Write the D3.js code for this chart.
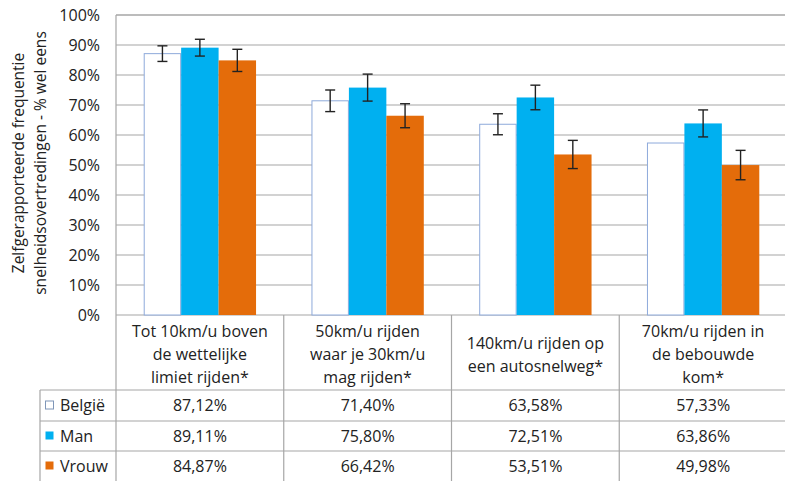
<!DOCTYPE html>
<html><head><meta charset="utf-8">
<script src="https://cdn.jsdelivr.net/npm/d3@7"></script>
<style>body{margin:0;background:#fff}svg{display:block}text{font-family:"Open Sans",sans-serif;fill:#222}</style>
</head><body><svg id="c" width="785" height="481"></svg>
<script>
const categories = [
  ["Tot 10km/u boven","de wettelijke","limiet rijden*"],
  ["50km/u rijden","waar je 30km/u","mag rijden*"],
  ["140km/u rijden op","een autosnelweg*"],
  ["70km/u rijden in","de bebouwde","kom*"]
];
const seriesNames = ["België","Man","Vrouw"];
const belgie = [87.12, 71.40, 63.58, 57.33];
const man = [89.11, 75.80, 72.51, 63.86];
const vrouw = [84.87, 66.42, 53.51, 49.98];
const errBelgie = [2.6, 3.6, 3.5, 0];
const errMan = [2.8, 4.5, 4.1, 4.5];
const errVrouw = [3.7, 4.0, 4.7, 4.9];
const yTicks = [0,10,20,30,40,50,60,70,80,90,100];
const yTitle = ["Zelfgerapporteerde frequentie","snelheidsovertredingen - % wel eens"];

const colors = ["#ffffff","#00b0f0","#e46c0a"];
const strokes = ["#8eaadb","none","none"];
const values = [belgie, man, vrouw];
const errs = [errBelgie, errMan, errVrouw];
const fmt = v => v.toFixed(2).replace(".", ",") + "%";

const svg = d3.select("#c");
const L = 116, R = 787, T = 15, B = 315;
const grid = "#a6a6a6";
const x = d3.scaleBand().domain(d3.range(categories.length)).range([L, R]);
const xs = d3.scaleBand().domain(d3.range(seriesNames.length)).range([0, x.bandwidth()]).paddingOuter(0.74);
const y = d3.scaleLinear().domain([0, 100]).range([B, T]);

// gridlines
svg.append("g").selectAll("line").data(yTicks).join("line")
  .attr("x1", L).attr("x2", R).attr("y1", d => y(d)).attr("y2", d => y(d))
  .attr("stroke", grid).attr("stroke-width", 1.2);

// y tick labels
svg.append("g").selectAll("text").data(yTicks).join("text")
  .attr("x", 100).attr("y", d => y(d)).attr("dy", "0.36em")
  .attr("text-anchor", "end").attr("font-size", 16).text(d => d + "%");

// y title
svg.append("g").selectAll("text").data(yTitle).join("text")
  .attr("transform", (d, i) => `translate(${24 + i * 22},163) rotate(-90)`)
  .attr("text-anchor", "middle").attr("font-size", 15.5).text(d => d);

// bars
seriesNames.forEach((s, si) => {
  const g = svg.append("g");
  g.selectAll("rect").data(values[si]).join("rect")
    .attr("x", (d, i) => x(i) + xs(si) + (si === 0 ? 0.5 : 0))
    .attr("y", d => y(d))
    .attr("width", xs.bandwidth() - (si === 0 ? 1 : 0))
    .attr("height", d => y(0) - y(d))
    .attr("fill", colors[si]).attr("stroke", strokes[si]).attr("stroke-width", 1);
});

// error bars
seriesNames.forEach((s, si) => {
  const g = svg.append("g").attr("stroke", "#222").attr("stroke-width", 1.4);
  values[si].forEach((v, i) => {
    const e = errs[si][i];
    if (!e) return;
    const cx = x(i) + xs(si) + xs.bandwidth() / 2;
    g.append("line").attr("x1", cx).attr("x2", cx).attr("y1", y(v + e)).attr("y2", y(v - e));
    g.append("line").attr("x1", cx - 5).attr("x2", cx + 5).attr("y1", y(v + e)).attr("y2", y(v + e));
    g.append("line").attr("x1", cx - 5).attr("x2", cx + 5).attr("y1", y(v - e)).attr("y2", y(v - e));
  });
});

// table
const rowY = [390, 421, 451, 481];
const tl = svg.append("g").attr("stroke", grid).attr("stroke-width", 1.2);
tl.append("line").attr("x1", L).attr("x2", L).attr("y1", T).attr("y2", 481);
tl.append("line").attr("x1", L).attr("x2", R).attr("y1", T).attr("y2", T);
x.domain().forEach(i => {
  tl.append("line").attr("x1", x(i) + x.bandwidth()).attr("x2", x(i) + x.bandwidth()).attr("y1", B).attr("y2", 481);
});
tl.append("line").attr("x1", 40).attr("x2", 40).attr("y1", rowY[0]).attr("y2", 481);
rowY.slice(0, 3).forEach(ry => tl.append("line").attr("x1", 40).attr("x2", R).attr("y1", ry).attr("y2", ry));

// category labels
categories.forEach((lines, i) => {
  const cx = x(i) + x.bandwidth() / 2;
  const cy = (B + rowY[0]) / 2 + 2;
  const lh = 23;
  const t = svg.append("text").attr("text-anchor", "middle").attr("font-size", 16);
  lines.forEach((ln, k) => {
    t.append("tspan").attr("x", cx).attr("y", cy + (k - (lines.length - 1) / 2) * lh).attr("dy", "0.36em").text(ln);
  });
});

// value rows + legend
seriesNames.forEach((s, si) => {
  const cy = (rowY[si] + rowY[si + 1]) / 2;
  svg.append("rect").attr("x", 45.5).attr("y", cy - 4.5).attr("width", 8).attr("height", 8)
    .attr("fill", colors[si]).attr("stroke", si === 0 ? "#7f96b8" : "none");
  svg.append("text").attr("x", 60).attr("y", cy).attr("dy", "0.36em").attr("font-size", 16).text(s);
  values[si].forEach((v, i) => {
    svg.append("text").attr("x", x(i) + x.bandwidth() / 2).attr("y", cy).attr("dy", "0.36em")
      .attr("text-anchor", "middle").attr("font-size", 16).text(fmt(v));
  });
});
</script></body></html>
